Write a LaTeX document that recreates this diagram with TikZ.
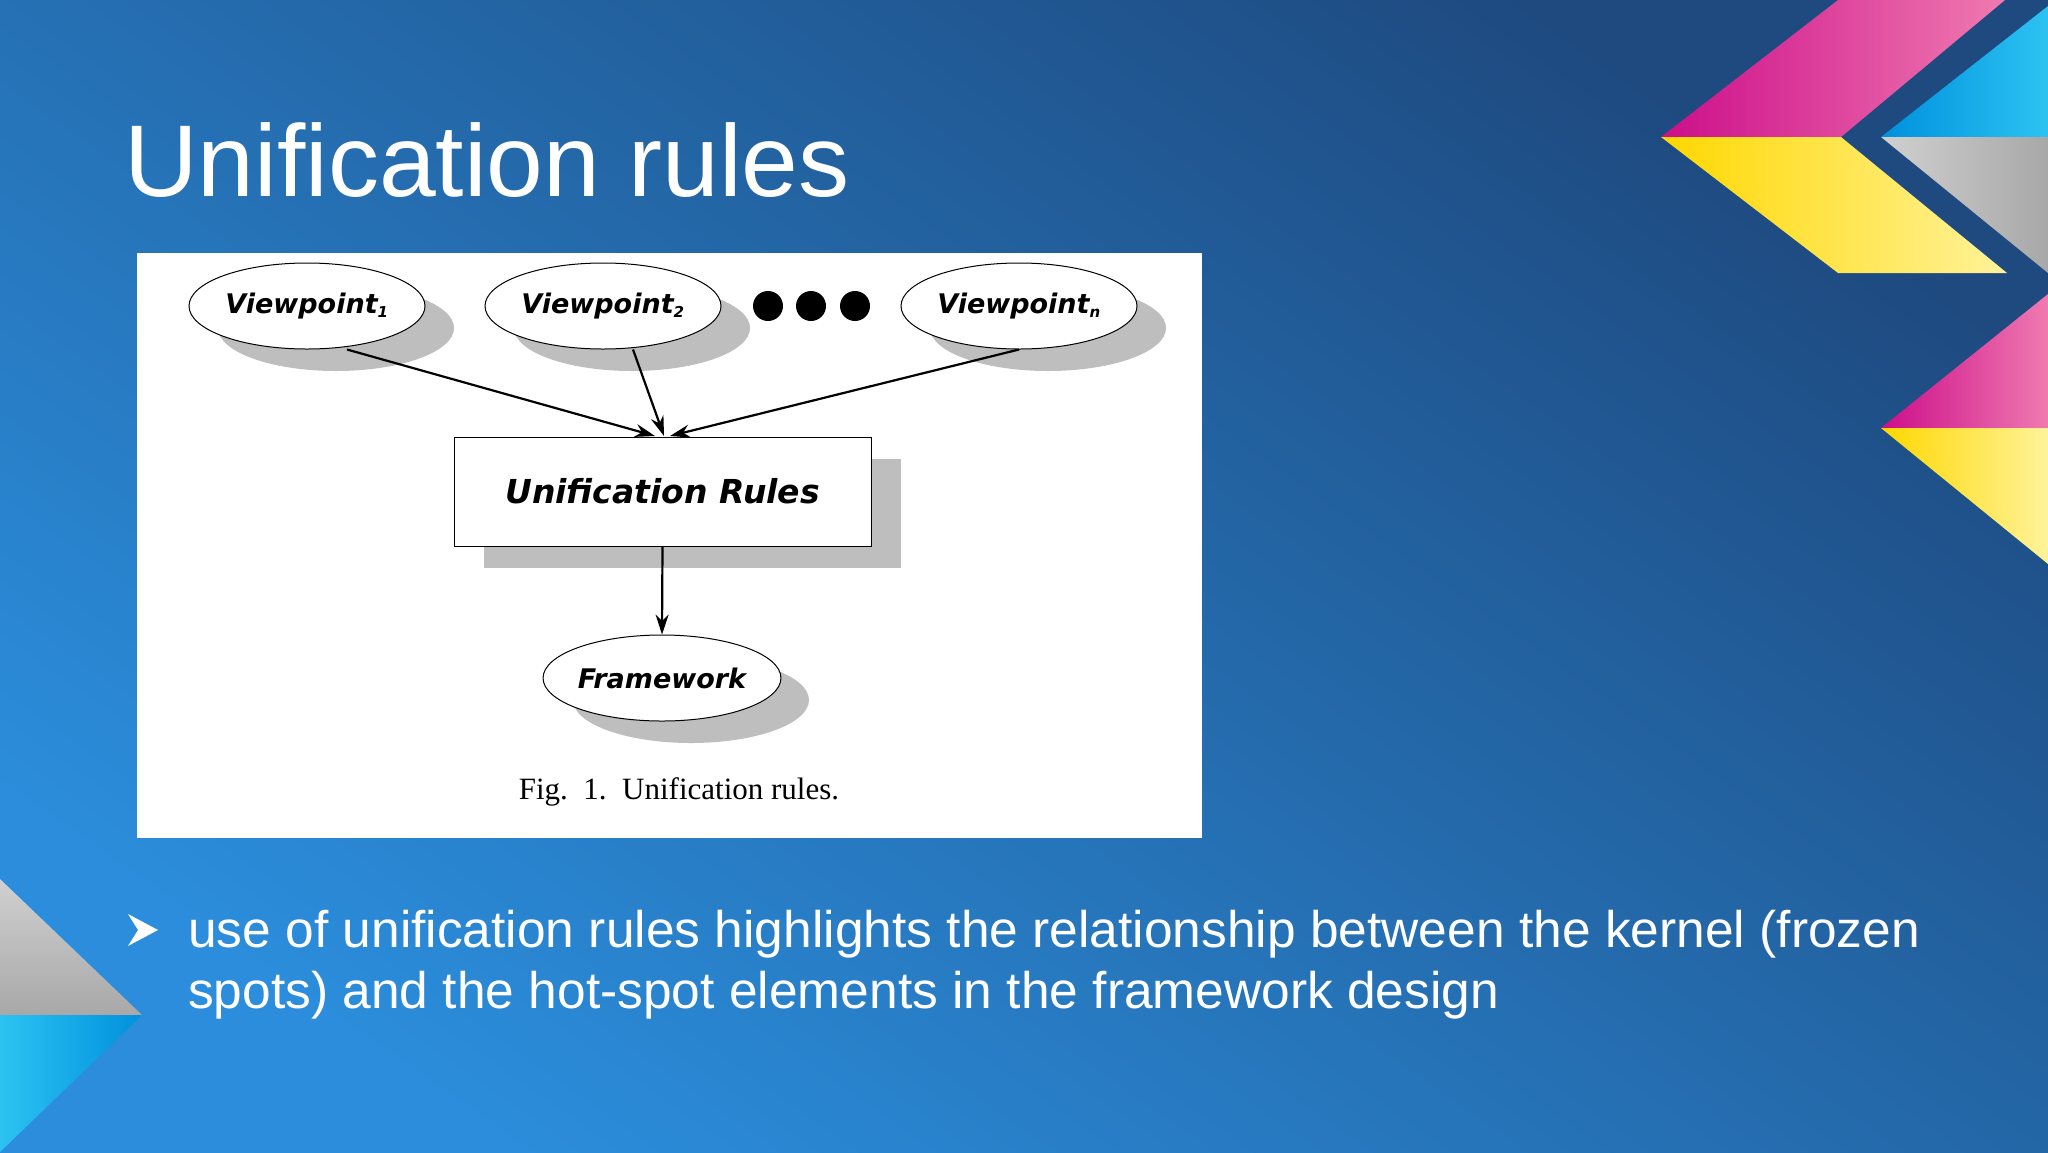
\documentclass[tikz,border=0pt]{standalone}
\usepackage{fontspec}
\setmainfont{Liberation Sans}
\newfontfamily\nodefont{DejaVu Sans}
\newfontfamily\capfont{Liberation Serif}
\usetikzlibrary{arrows.meta,shapes.geometric}
\definecolor{bgA}{HTML}{2B8DDB}
\definecolor{bgB}{HTML}{1E4A80}
\definecolor{mag}{HTML}{CC0E8A}
\definecolor{magl}{HTML}{F07AB0}
\definecolor{yel}{HTML}{FFD700}
\definecolor{yell}{HTML}{FFF39A}
\definecolor{sky}{HTML}{0090DD}
\definecolor{skyl}{HTML}{2CC3F2}
\definecolor{gryA}{HTML}{A8A8A8}
\definecolor{gryB}{HTML}{D0D0D0}
\definecolor{shd}{HTML}{BEBEBE}
\tikzset{
 vp/.style={ellipse,draw=black,line width=1pt,fill=white,inner sep=0pt,minimum width=236pt,minimum height=86pt,font=\nodefont\bfseries\itshape\fontsize{27}{30}\selectfont},
 vpsh/.style={ellipse,fill=shd,minimum width=236pt,minimum height=86pt},
 arr/.style={-{Stealth[length=20pt,width=13pt]},line width=2.2pt},
}
\begin{document}
\begin{tikzpicture}[x=1pt,y=-1pt]
\useasboundingbox (0,0) rectangle (2048,1152);
\shade[bottom color=bgA,top color=bgB,shading angle=-35] (0,0) rectangle (2048,1152);
% decorations
\shade[left color=mag,right color=magl] (1661,137) -- (1838,0) -- (2005,0) -- (1841,137) -- cycle;
\shade[left color=yel,right color=yell] (1661,137) -- (1841,137) -- (2007,273) -- (1838,273) -- cycle;
\shade[left color=sky,right color=skyl] (1881,137) -- (2048,6) -- (2048,137) -- cycle;
\shade[left color=gryB,right color=gryA] (1881,137) -- (2048,137) -- (2048,273) -- cycle;
\shade[left color=mag,right color=magl] (1881,428) -- (2048,294) -- (2048,428) -- cycle;
\shade[left color=yel,right color=yell] (1881,428) -- (2048,428) -- (2048,564) -- cycle;
\shade[top color=gryB,bottom color=gryA] (0,879) -- (142,1015) -- (0,1015) -- cycle;
\shade[left color=skyl,right color=sky] (0,1015) -- (142,1015) -- (0,1152) -- cycle;
% title
\node[anchor=base west,text=white,font=\fontsize{102}{110}\selectfont,inner sep=0] (title) at (124,196) {Unification rules};
% figure
\fill[white] (137,253) rectangle (1202,838);
\node[vpsh] (s1) at (336,328) {};
\node[vpsh] (s2) at (632,328) {};
\node[vpsh] (sn) at (1048,328) {};
\node[vpsh] (sf) at (691,700) {};
\fill[shd] (484,459) rectangle (901,568);
\node[vp] (v1) at (307,306) {Viewpoint\textsubscript{\fontsize{15}{15}\selectfont 1}};
\node[vp] (v2) at (603,306) {Viewpoint\textsubscript{\fontsize{15}{15}\selectfont 2}};
\node[vp] (vn) at (1019,306) {Viewpoint\textsubscript{\fontsize{15}{15}\selectfont n}};
\foreach \i/\x in {a/768,b/811,c/855} \fill (\x,306) circle (15) coordinate (d\i);
\node[draw=black,line width=1pt,fill=white,minimum width=417pt,minimum height=109pt,font=\nodefont\bfseries\itshape\fontsize{33}{38}\selectfont] (ur) at (662.5,491.5) {Unification Rules};
\node[vp,font=\nodefont\bfseries\itshape\fontsize{27}{30}\selectfont] (fw) at (662,678) {Framework};
\node[font=\capfont\fontsize{31}{34}\selectfont] (cap) at (679,792) {Fig.\ \ 1.\ \ Unification\ rules.};
\coordinate (t1) at (655,436);
\coordinate (t2) at (664,436);
\coordinate (t3) at (670,436);
\draw[arr] (v1.south) ++(40,0) coordinate (b1) -- (t1);
\draw[arr] (v2.south) ++(30,0) -- (t2);
\draw[arr] (vn.south) -- (t3);
\draw[arr] (ur.south) -- (fw.north);
% bullet
\fill[white] (128,914) -- (158,930) -- (128,946) -- (138,930) -- cycle;
\node[anchor=base west,text=white,font=\fontsize{51.5}{61}\selectfont,inner sep=0,align=left] (txt) at (188,1008) {use of unification rules highlights the relationship between the kernel (frozen\\spots) and the hot-spot elements in the framework design};
\end{tikzpicture}
\end{document}
